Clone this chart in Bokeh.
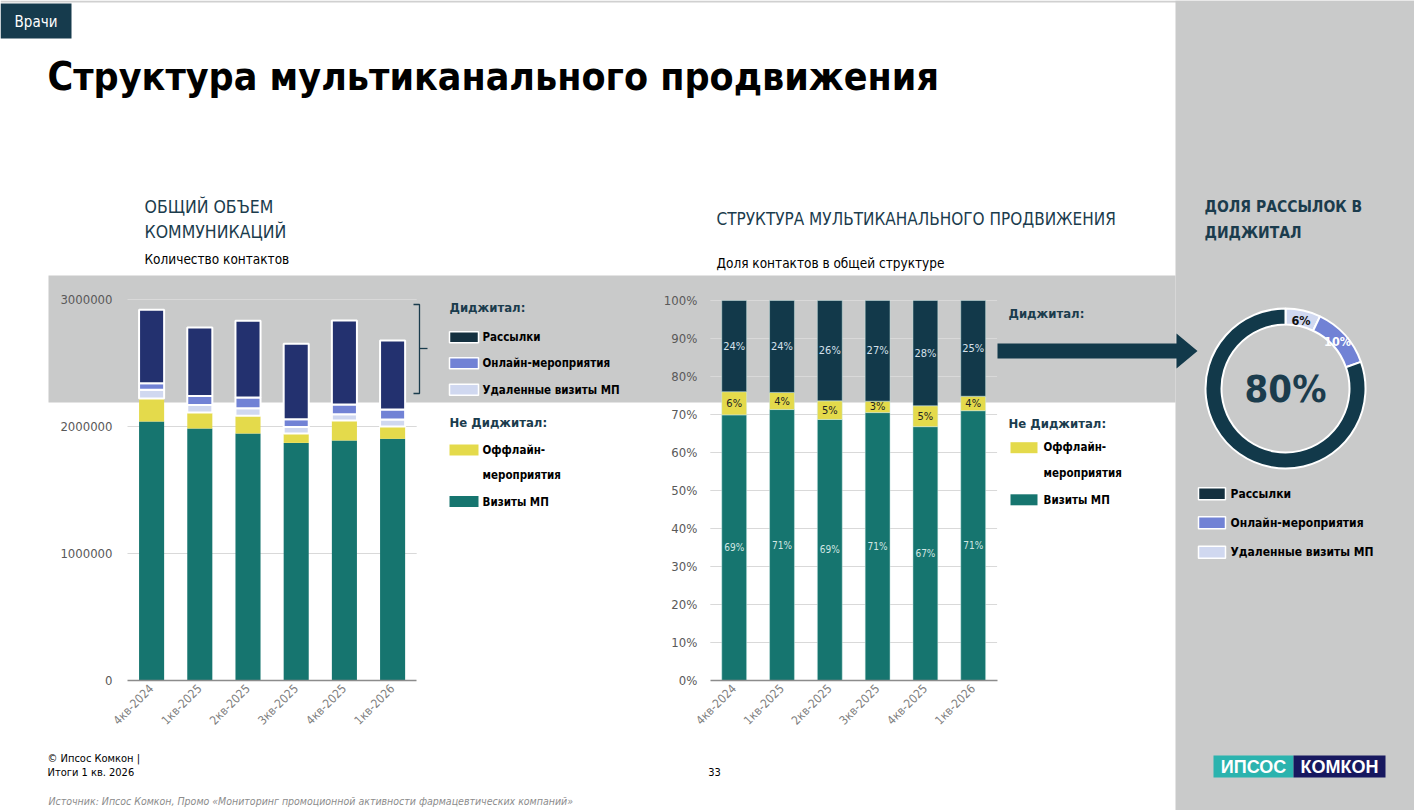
import numpy as np
from bokeh.plotting import figure
from bokeh.models import Range1d, LinearAxis, FixedTicker, NumeralTickFormatter, ColumnDataSource
from bokeh.core.properties import value
from bokeh.embed import file_html
from bokeh.resources import INLINE

# ---------------- data ----------------
quarters = ["4кв-2024", "1кв-2025", "2кв-2025", "3кв-2025", "4кв-2025", "1кв-2026"]

# total volume of communications (contacts)
visits = [2040000, 1985000, 1945000, 1871000, 1890000, 1903000]
offline = [180000, 125000, 140000, 74000, 157000, 97000]
remote = [70000, 60000, 58000, 52000, 50000, 55000]
online = [50000, 70000, 86000, 61000, 76000, 79000]
mailings = [580000, 540000, 604000, 593000, 662000, 543000]
count_ticks = [0, 1000000, 2000000, 3000000]

# structure, % of contacts
visits_share = [69.9, 71.3, 68.7, 70.5, 66.8, 71.0]
offline_share = [6.1, 4.5, 4.9, 3.0, 5.5, 3.8]
digital_share = [24.0, 24.2, 26.4, 26.5, 27.7, 25.2]
visits_lbl = [69, 71, 69, 71, 67, 71]
offline_lbl = [6, 4, 5, 3, 5, 4]
digital_lbl = [24, 24, 26, 27, 28, 25]
pct_ticks = [0, 10, 20, 30, 40, 50, 60, 70, 80, 90, 100]

# share of mailings in digital
donut_names = ["Удаленные визиты МП", "Онлайн-мероприятия", "Рассылки"]
donut_values = [7.1, 12.5, 80.4]
donut_labels = ["6%", "10%", "80%"]

# ---------------- styling ----------------
W, H = 1414, 810
NARROW = "DejaVu Sans Condensed, Liberation Sans, sans-serif"
DARK = "#1B3C4D"
GRAY_BG = "#C9CACA"
C_VIS = "#16756F"
C_OFF = "#E4DA4B"
C_REM = "#D0D8F0"
C_ONL = "#7182D5"
C_MAIL = "#23316F"
C_DIG = "#12394A"
C_LEG_MAIL = "#14303F"


def lin_range(pa, va, pb, vb, p_lo, p_hi):
    k = (vb - va) / (pb - pa)
    return Range1d(start=va + (p_lo - pa) * k, end=va + (p_hi - pa) * k)


p = figure(width=W, height=H, x_range=Range1d(0, W), y_range=Range1d(H, 0),
           x_axis_type=None, y_axis_type=None, toolbar_location=None,
           output_backend="svg", min_border=0, outline_line_color=None,
           background_fill_color="white", border_fill_color="white")

p.extra_x_ranges = {
    "lx": lin_range(151.1, 0, 392.1, 5, 0, W),
    "px": lin_range(733.7, 0, 972.7, 5, 0, W),
    "dx": lin_range(1285, 0, 1286, 1, 0, W),
}
p.extra_y_ranges = {
    "ly": lin_range(680, 0, 299, 3000000, H, 0),
    "py": lin_range(680, 0, 300, 100, H, 0),
    "dy": lin_range(388, 0, 387, 1, H, 0),
}


def txt(x, y, s, size, color="#000000", style="normal", font=NARROW, align="left"):
    p.text(x=[x], y=[y], text=[s], text_font=value(font), text_font_size=f"{size}px",
           text_color=color, text_font_style=style, text_align=align, text_baseline="middle")


# ---------------- backgrounds ----------------
p.quad(left=[0], right=[W], top=[0], bottom=[2], color="#D0D0D0", line_color=None)
p.quad(left=[48], right=[1175], top=[275], bottom=[402], color=GRAY_BG, line_color=None)
p.quad(left=[1175], right=[W], top=[0], bottom=[H], color=GRAY_BG, line_color=None)

# tag + title
p.quad(left=[0], right=[71], top=[3], bottom=[38], color="#163B4D", line_color=None)
txt(35.5, 21, "Врачи", 15, color="white", align="center")
txt(47, 76, "Структура мультиканального продвижения", 39, style="bold")

# section headers
txt(144, 206, "ОБЩИЙ ОБЪЕМ", 17.5, color=DARK)
txt(144, 231, "КОММУНИКАЦИЙ", 17.5, color=DARK)
txt(144, 258, "Количество контактов", 13.5)
txt(716, 218, "СТРУКТУРА МУЛЬТИКАНАЛЬНОГО ПРОДВИЖЕНИЯ", 17, color=DARK)
txt(716, 262, "Доля контактов в общей структуре", 13.5)
txt(1204, 206, "ДОЛЯ РАССЫЛОК В", 15.5, color=DARK, style="bold")
txt(1204, 232, "ДИДЖИТАЛ", 15.5, color=DARK, style="bold")

# ---------------- left chart: counts ----------------
idx = list(range(len(quarters)))
src_l = ColumnDataSource(dict(idx=idx, visits=visits, offline=offline, remote=remote,
                              online=online, mailings=mailings))
grid_l = [t for t in count_ticks if t > 0]
p.segment(x0=[-0.5] * len(grid_l), x1=[5.5] * len(grid_l), y0=grid_l, y1=grid_l,
          line_color="#D9D9D9", line_width=1, x_range_name="lx", y_range_name="ly")
p.vbar_stack(["visits", "offline", "remote", "online", "mailings"], x="idx", width=0.52,
             source=src_l, fill_color=[C_VIS, C_OFF, C_REM, C_ONL, C_MAIL],
             line_color=[None, None, "white", "white", "white"], line_width=[0, 0, 2, 2, 2],
             x_range_name="lx", y_range_name="ly")

ax_lx = LinearAxis(x_range_name="lx", y_range_name="ly", fixed_location=0, bounds=(-0.5, 5.5),
                   ticker=FixedTicker(ticks=idx),
                   major_label_overrides={i: q for i, q in enumerate(quarters)},
                   major_label_orientation=np.pi / 4, axis_line_color="#8C8C8C", axis_line_width=1.5,
                   major_tick_line_color=None, minor_tick_line_color=None,
                   major_tick_in=0, major_tick_out=0, major_label_standoff=6,
                   major_label_text_font=NARROW, major_label_text_font_size="12px",
                   major_label_text_color="#7F7F7F")
p.add_layout(ax_lx, "below")
ax_ly = LinearAxis(x_range_name="lx", y_range_name="ly", fixed_location=-0.5,
                   bounds=(0, 3000000), ticker=FixedTicker(ticks=count_ticks),
                   formatter=NumeralTickFormatter(format="0"),
                   axis_line_color=None, major_tick_line_color=None, minor_tick_line_color=None,
                   major_tick_in=0, major_tick_out=0, major_label_standoff=15,
                   major_label_text_font=NARROW, major_label_text_font_size="13px",
                   major_label_text_color="#595959")
p.add_layout(ax_ly, "left")

# bracket + legend (left)
p.multi_line(xs=[[413, 419, 419, 413], [419, 427]], ys=[[304, 304, 393, 393], [348, 348]],
             line_color=DARK, line_width=1.3)
txt(449, 307, "Диджитал:", 13, color=DARK, style="bold")
leg_l = [("Рассылки", C_LEG_MAIL, 336.7), ("Онлайн-мероприятия", C_ONL, 362.7),
         ("Удаленные визиты МП", C_REM, 389.3)]
for name, col, yy in leg_l:
    p.quad(left=[449], right=[478], top=[yy - 5.5], bottom=[yy + 5.5], fill_color=col,
           line_color="white", line_width=1.5)
    txt(482, yy, name, 11.5, style="bold")
txt(449, 421.7, "Не Диджитал:", 13, color=DARK, style="bold")
p.quad(left=[449], right=[478], top=[444], bottom=[455], fill_color=C_OFF, line_color=None)
txt(482, 449.3, "Оффлайн-", 11.5, style="bold")
txt(482, 474.3, "мероприятия", 11.5, style="bold")
p.quad(left=[449], right=[478], top=[495.5], bottom=[506.5], fill_color=C_VIS, line_color=None)
txt(482, 501, "Визиты МП", 11.5, style="bold")

# ---------------- middle chart: shares ----------------
vs = np.array(visits_share)
os_ = np.array(offline_share)
ds = np.array(digital_share)
src_p = ColumnDataSource(dict(idx=idx, v=vs, o=os_, d=ds))
grid_p = [t for t in pct_ticks if t > 0]
p.segment(x0=[-0.5] * len(grid_p), x1=[5.5] * len(grid_p), y0=grid_p, y1=grid_p,
          line_color="#D9D9D9", line_width=1, x_range_name="px", y_range_name="py")
p.vbar_stack(["v", "o", "d"], x="idx", width=0.52, source=src_p,
             fill_color=[C_VIS, C_OFF, C_DIG], line_color="#CFE9E6", line_width=0.6,
             line_alpha=0.8, x_range_name="px", y_range_name="py")
p.text(x=idx, y=list(vs / 2), text=[f"{v}%" for v in visits_lbl], text_font=value(NARROW),
       text_font_size="10px", text_color="#D2E6E3", text_align="center", text_baseline="middle",
       x_range_name="px", y_range_name="py")
p.text(x=idx, y=list(vs + os_ / 2), text=[f"{v}%" for v in offline_lbl], text_font=value(NARROW),
       text_font_size="11px", text_color="#222222", text_align="center", text_baseline="middle",
       x_range_name="px", y_range_name="py")
p.text(x=idx, y=list(vs + os_ + ds / 2), text=[f"{v}%" for v in digital_lbl],
       text_font=value(NARROW), text_font_size="11px", text_color="#D5E0EA",
       text_align="center", text_baseline="middle", x_range_name="px", y_range_name="py")

ax_px = LinearAxis(x_range_name="px", y_range_name="py", fixed_location=0, bounds=(-0.5, 5.5),
                   ticker=FixedTicker(ticks=idx),
                   major_label_overrides={i: q for i, q in enumerate(quarters)},
                   major_label_orientation=np.pi / 4, axis_line_color="#8C8C8C", axis_line_width=1.5,
                   major_tick_line_color=None, minor_tick_line_color=None,
                   major_tick_in=0, major_tick_out=0, major_label_standoff=6,
                   major_label_text_font=NARROW, major_label_text_font_size="12px",
                   major_label_text_color="#7F7F7F")
p.add_layout(ax_px, "below")
ax_py = LinearAxis(x_range_name="px", y_range_name="py", fixed_location=-0.5,
                   bounds=(0, 100), ticker=FixedTicker(ticks=pct_ticks),
                   major_label_overrides={t: f"{t}%" for t in pct_ticks},
                   axis_line_color=None, major_tick_line_color=None, minor_tick_line_color=None,
                   major_tick_in=0, major_tick_out=0, major_label_standoff=13,
                   major_label_text_font=NARROW, major_label_text_font_size="13px",
                   major_label_text_color="#595959")
p.add_layout(ax_py, "left")

# middle legend + arrow
txt(1008, 313, "Диджитал:", 13, color=DARK, style="bold")
p.patch(x=[997, 1176, 1176, 1197, 1176, 1176, 997], y=[343, 343, 333, 350.5, 368, 358, 358],
        color=C_DIG, line_color=None)
txt(1008, 423, "Не Диджитал:", 13, color=DARK, style="bold")
p.quad(left=[1010], right=[1037], top=[441.7], bottom=[452.7], fill_color=C_OFF, line_color=None)
txt(1043, 446.7, "Оффлайн-", 11.5, style="bold")
txt(1043, 472.7, "мероприятия", 11.5, style="bold")
p.quad(left=[1010], right=[1037], top=[493.8], bottom=[504.8], fill_color=C_VIS, line_color=None)
txt(1043, 499.3, "Визиты МП", 11.5, style="bold")

# ---------------- donut ----------------
dv = np.array(donut_values) / np.sum(donut_values)
cum = np.concatenate([[0], np.cumsum(dv)])
starts = np.pi / 2 - cum[:-1] * 2 * np.pi
ends = np.pi / 2 - cum[1:] * 2 * np.pi
p.annular_wedge(x=[0] * 3, y=[0] * 3, inner_radius=64, outer_radius=80,
                inner_radius_units="screen", outer_radius_units="screen",
                start_angle=list(starts), end_angle=list(ends), direction="clock",
                fill_color=[C_REM, C_ONL, C_DIG], line_color="white", line_width=2,
                x_range_name="dx", y_range_name="dy")
mid = (cum[:-1] + cum[1:]) / 2 * 2 * np.pi
r_lab = 70
p.text(x=[r_lab * np.sin(mid[0])], y=[r_lab * np.cos(mid[0])], text=[donut_labels[0]],
       text_font=value(NARROW), text_font_size="12.5px", text_font_style="bold",
       text_color="#111111", text_align="center", text_baseline="middle",
       x_range_name="dx", y_range_name="dy")
p.text(x=[r_lab * np.sin(mid[1])], y=[r_lab * np.cos(mid[1])], text=[donut_labels[1]],
       text_font=value(NARROW), text_font_size="12.5px", text_font_style="bold",
       text_color="white", text_align="center", text_baseline="middle",
       x_range_name="dx", y_range_name="dy")
p.text(x=[0], y=[0], text=[donut_labels[2]], text_font=value(NARROW), text_font_size="38px",
       text_font_style="bold", text_color=DARK, text_align="center", text_baseline="middle",
       x_range_name="dx", y_range_name="dy")

leg_d = [("Рассылки", C_LEG_MAIL, 493.3), ("Онлайн-мероприятия", C_ONL, 522.3),
         ("Удаленные визиты МП", C_REM, 551.7)]
for name, col, yy in leg_d:
    p.quad(left=[1198], right=[1225], top=[yy - 6], bottom=[yy + 6], fill_color=col,
           line_color="white", line_width=1.5)
    txt(1230, yy, name, 12, style="bold")

# ---------------- footer ----------------
txt(47, 758, "© Ипсос Комкон |", 11)
txt(47, 772, "Итоги 1 кв. 2026", 11)
txt(714, 771, "33", 11, align="center")
txt(48, 800, "Источник: Ипсос Комкон, Промо «Мониторинг промоционной активности фармацевтических компаний»",
    10.5, color="#8C8C8C", style="italic")
p.quad(left=[1213], right=[1293], top=[755], bottom=[777], color="#2BB3AE", line_color=None)
p.quad(left=[1293], right=[1385], top=[755], bottom=[777], color="#17185F", line_color=None)
txt(1253, 766.5, "ИПСОС", 18, color="white", style="bold", font="Liberation Sans", align="center")
txt(1339, 766.5, "КОМКОН", 18, color="white", style="bold", font="Liberation Sans", align="center")

open("out.html", "w").write(file_html(p, INLINE))
